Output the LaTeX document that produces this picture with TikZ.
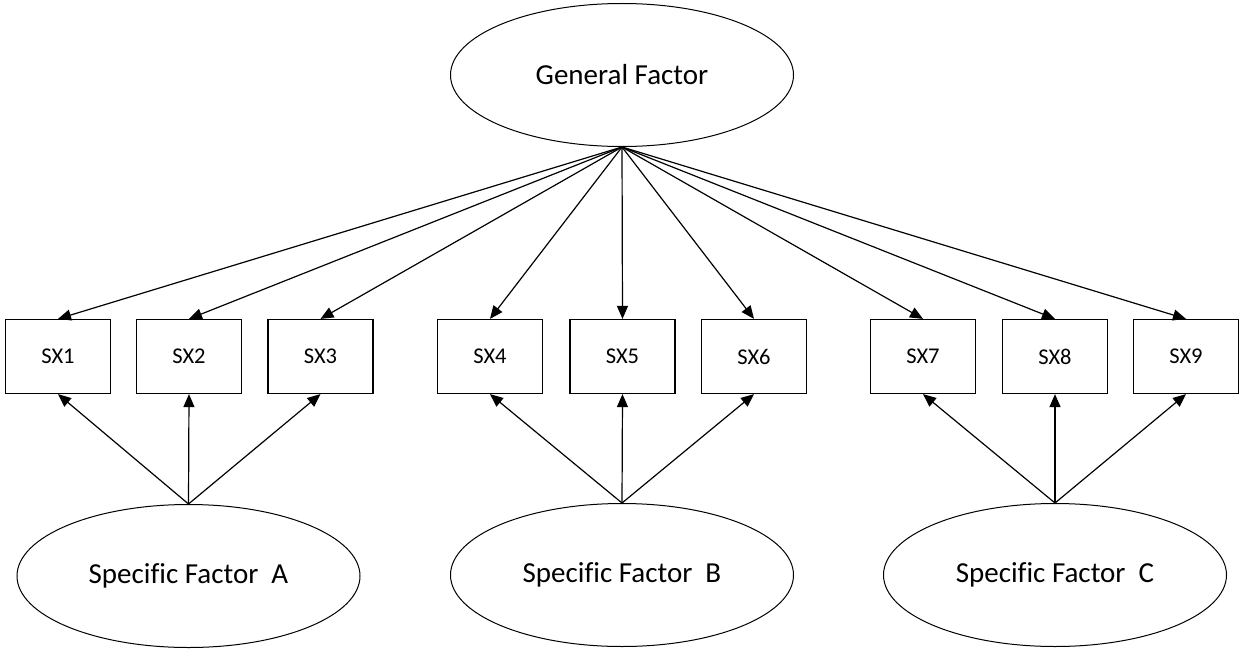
\documentclass[tikz,border=0pt]{standalone}
\usepackage{fontspec}
\setmainfont[Ligatures=NoCommon]{Carlito}
\usetikzlibrary{shapes.geometric,arrows.meta}
\tikzset{
  factor/.style={draw, ellipse, line width=1pt, minimum width=343pt, minimum height=143pt, inner sep=0pt, font=\fontsize{29}{33}\selectfont},
  obs/.style={draw, rectangle, line width=1.2pt, minimum width=105pt, minimum height=74pt, inner sep=0pt, font=\fontsize{22.5}{26}\selectfont},
  load/.style={line width=1.2pt, -{Triangle[length=13pt,width=11pt]}}
}
\begin{document}
\begin{tikzpicture}[x=1pt,y=-1pt]
\useasboundingbox (0,0) rectangle (1239,650);
\node[factor] (G) at (622,75) {General Factor};
\node[factor] (A) at (188.5,576) {Specific Factor\ \ A};
\node[factor] (B) at (622,575) {Specific Factor\ \ B};
\node[factor] (C) at (1055,575) {Specific Factor\ \ C};
\node[obs] (s1) at (58,356.5) {SX1};
\node[obs] (s2) at (189,356.5) {SX2};
\node[obs] (s3) at (320.5,356.5) {SX3};
\node[obs] (s4) at (490,356.5) {SX4};
\node[obs] (s5) at (622.5,356.5) {SX5};
\node[obs] (s6) at (754,356.5) {SX6};
\node[obs] (s7) at (923,356.5) {SX7};
\node[obs] (s8) at (1055,356.5) {SX8};
\node[obs] (s9) at (1186,356.5) {SX9};
\foreach \i in {1,...,9} {\draw[load] (G.south) -- (s\i.north);}
\foreach \i in {1,2,3} {\draw[load] (A.north) -- (s\i.south);}
\foreach \i in {4,5,6} {\draw[load] (B.north) -- (s\i.south);}
\foreach \i in {7,8,9} {\draw[load] (C.north) -- (s\i.south);}
\end{tikzpicture}
\end{document}
